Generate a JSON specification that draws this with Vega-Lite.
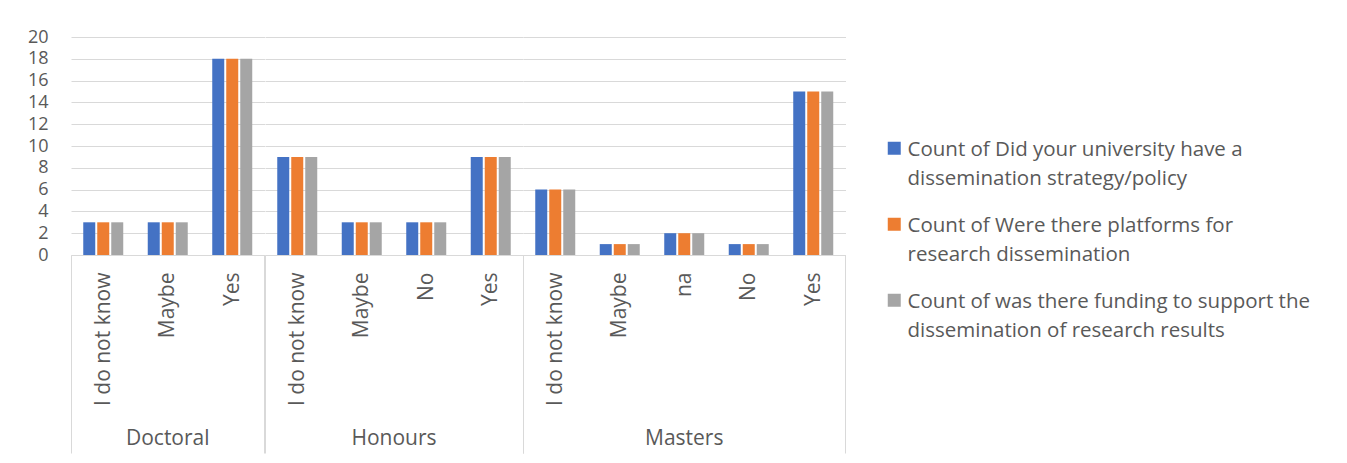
{
  "$schema": "https://vega.github.io/schema/vega-lite/v6.json",
  "padding": {"left": 27, "top": 28, "right": 0, "bottom": 0},
  "background": "white",
  "data": {
    "values": [
      {"group": "Doctoral", "answer": "I do not know", "series": "Count of Did your university have a dissemination strategy/policy", "count": 3},
      {"group": "Doctoral", "answer": "I do not know", "series": "Count of Were there platforms for research dissemination", "count": 3},
      {"group": "Doctoral", "answer": "I do not know", "series": "Count of was there funding to support the dissemination of research results", "count": 3},
      {"group": "Doctoral", "answer": "Maybe", "series": "Count of Did your university have a dissemination strategy/policy", "count": 3},
      {"group": "Doctoral", "answer": "Maybe", "series": "Count of Were there platforms for research dissemination", "count": 3},
      {"group": "Doctoral", "answer": "Maybe", "series": "Count of was there funding to support the dissemination of research results", "count": 3},
      {"group": "Doctoral", "answer": "Yes", "series": "Count of Did your university have a dissemination strategy/policy", "count": 18},
      {"group": "Doctoral", "answer": "Yes", "series": "Count of Were there platforms for research dissemination", "count": 18},
      {"group": "Doctoral", "answer": "Yes", "series": "Count of was there funding to support the dissemination of research results", "count": 18},
      {"group": "Honours", "answer": "I do not know", "series": "Count of Did your university have a dissemination strategy/policy", "count": 9},
      {"group": "Honours", "answer": "I do not know", "series": "Count of Were there platforms for research dissemination", "count": 9},
      {"group": "Honours", "answer": "I do not know", "series": "Count of was there funding to support the dissemination of research results", "count": 9},
      {"group": "Honours", "answer": "Maybe", "series": "Count of Did your university have a dissemination strategy/policy", "count": 3},
      {"group": "Honours", "answer": "Maybe", "series": "Count of Were there platforms for research dissemination", "count": 3},
      {"group": "Honours", "answer": "Maybe", "series": "Count of was there funding to support the dissemination of research results", "count": 3},
      {"group": "Honours", "answer": "No", "series": "Count of Did your university have a dissemination strategy/policy", "count": 3},
      {"group": "Honours", "answer": "No", "series": "Count of Were there platforms for research dissemination", "count": 3},
      {"group": "Honours", "answer": "No", "series": "Count of was there funding to support the dissemination of research results", "count": 3},
      {"group": "Honours", "answer": "Yes", "series": "Count of Did your university have a dissemination strategy/policy", "count": 9},
      {"group": "Honours", "answer": "Yes", "series": "Count of Were there platforms for research dissemination", "count": 9},
      {"group": "Honours", "answer": "Yes", "series": "Count of was there funding to support the dissemination of research results", "count": 9},
      {"group": "Masters", "answer": "I do not know", "series": "Count of Did your university have a dissemination strategy/policy", "count": 6},
      {"group": "Masters", "answer": "I do not know", "series": "Count of Were there platforms for research dissemination", "count": 6},
      {"group": "Masters", "answer": "I do not know", "series": "Count of was there funding to support the dissemination of research results", "count": 6},
      {"group": "Masters", "answer": "Maybe", "series": "Count of Did your university have a dissemination strategy/policy", "count": 1},
      {"group": "Masters", "answer": "Maybe", "series": "Count of Were there platforms for research dissemination", "count": 1},
      {"group": "Masters", "answer": "Maybe", "series": "Count of was there funding to support the dissemination of research results", "count": 1},
      {"group": "Masters", "answer": "na", "series": "Count of Did your university have a dissemination strategy/policy", "count": 2},
      {"group": "Masters", "answer": "na", "series": "Count of Were there platforms for research dissemination", "count": 2},
      {"group": "Masters", "answer": "na", "series": "Count of was there funding to support the dissemination of research results", "count": 2},
      {"group": "Masters", "answer": "No", "series": "Count of Did your university have a dissemination strategy/policy", "count": 1},
      {"group": "Masters", "answer": "No", "series": "Count of Were there platforms for research dissemination", "count": 1},
      {"group": "Masters", "answer": "No", "series": "Count of was there funding to support the dissemination of research results", "count": 1},
      {"group": "Masters", "answer": "Yes", "series": "Count of Did your university have a dissemination strategy/policy", "count": 15},
      {"group": "Masters", "answer": "Yes", "series": "Count of Were there platforms for research dissemination", "count": 15},
      {"group": "Masters", "answer": "Yes", "series": "Count of was there funding to support the dissemination of research results", "count": 15}
    ]
  },
  "facet": {
    "column": {
      "field": "group",
      "type": "nominal",
      "sort": ["Doctoral", "Honours", "Masters"],
      "header": {
        "title": null,
        "labelOrient": "bottom",
        "labelFont": "Open Sans",
        "labelFontSize": 21,
        "labelColor": "#595959",
        "labelPadding": 173
      }
    }
  },
  "spacing": 0,
  "align": "each",
  "bounds": "flush",
  "resolve": {"scale": {"x": "independent"}},
  "spec": {
    "width": {"step": 14},
    "height": 218,
    "mark": {"type": "bar"},
    "encoding": {
      "x": {
        "field": "answer",
        "type": "nominal",
        "sort": ["I do not know", "Maybe", "na", "No", "Yes"],
        "scale": {"paddingInner": 0, "paddingOuter": 0},
        "axis": {
          "title": null,
          "labelAngle": -90,
          "labelFontSize": 21,
          "labelColor": "#595959",
          "labelPadding": -181,
          "tickBand": "extent",
          "tickSize": 198,
          "tickColor": {
            "condition": {"test": "datum.value === 'Yes' || datum.index < 0 || !isValid(datum.value)", "value": "#d9d9d9"},
            "value": "transparent"
          },
          "domainColor": "#d9d9d9",
          "grid": false
        }
      },
      "xOffset": {
        "field": "series",
        "type": "nominal",
        "sort": [
          "Count of Did your university have a dissemination strategy/policy",
          "Count of Were there platforms for research dissemination",
          "Count of was there funding to support the dissemination of research results"
        ],
        "scale": {"paddingInner": 0.143, "paddingOuter": 0.875}
      },
      "y": {
        "field": "count",
        "type": "quantitative",
        "scale": {"domain": [0, 20], "nice": false},
        "axis": {
          "title": null,
          "values": [0, 2, 4, 6, 8, 10, 12, 14, 16, 18, 20],
          "domain": false,
          "ticks": false,
          "labelPadding": 23,
          "labelFontSize": 18,
          "labelColor": "#595959",
          "gridColor": "#d9d9d9"
        }
      },
      "color": {
        "field": "series",
        "type": "nominal",
        "sort": [
          "Count of Did your university have a dissemination strategy/policy",
          "Count of Were there platforms for research dissemination",
          "Count of was there funding to support the dissemination of research results"
        ],
        "scale": {"range": ["#4472C4", "#ED7D31", "#A5A5A5"]},
        "legend": {
          "title": null,
          "orient": "none",
          "legendX": 813,
          "legendY": 101,
          "symbolType": "square",
          "symbolSize": 169,
          "symbolStrokeWidth": 0,
          "labelFontSize": 20.5,
          "labelColor": "#595959",
          "labelLimit": 500,
          "labelOffset": 3,
          "labelBaseline": "top",
          "rowPadding": 24,
          "encode": {"labels": {"update": {"dy": {"value": -8}, "lineHeight": {"value": 29}}}},
          "labelExpr": "datum.label === 'Count of Did your university have a dissemination strategy/policy' ? ['Count of Did your university have a', 'dissemination strategy/policy'] : datum.label === 'Count of Were there platforms for research dissemination' ? ['Count of Were there platforms for', 'research dissemination'] : ['Count of was there funding to support the', 'dissemination of research results']"
        }
      }
    }
  },
  "config": {
    "font": "Open Sans",
    "view": {"stroke": null}
  }
}
